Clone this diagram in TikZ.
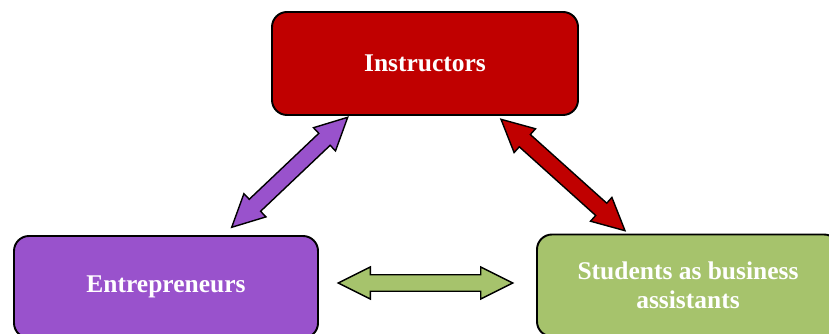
\documentclass[tikz,border=0pt]{standalone}
\usepackage{fontspec}
\setmainfont{Liberation Serif}
\usetikzlibrary{calc}
\definecolor{instred}{HTML}{C00000}
\definecolor{entpurple}{HTML}{9952CC}
\definecolor{stugreen}{HTML}{A6C36C}
\tikzset{
  role/.style={draw=black, line width=1.1pt, rounded corners=0.3cm, text=white,
    font=\fontsize{14.5}{16.5}\selectfont\bfseries, align=center,
    minimum width=6.08cm, minimum height=2.04cm},
  fat/.style={draw=black, line width=0.8pt, line join=miter}
}
% Doppelpfeil: #1 Stil, #2 Start, #3 Ende
\newcommand{\fatarrow}[3]{%
  \draw[fat, #1] (#2)
    -- ($(#2)!0.64cm!(#3)!0.32cm!90:(#3)$)
    -- ($(#2)!0.64cm!(#3)!0.165cm!90:(#3)$)
    -- ($(#3)!0.64cm!(#2)!0.165cm!-90:(#2)$)
    -- ($(#3)!0.64cm!(#2)!0.32cm!-90:(#2)$)
    -- (#3)
    -- ($(#3)!0.64cm!(#2)!0.32cm!90:(#2)$)
    -- ($(#3)!0.64cm!(#2)!0.165cm!90:(#2)$)
    -- ($(#2)!0.64cm!(#3)!0.165cm!-90:(#3)$)
    -- ($(#2)!0.64cm!(#3)!0.32cm!-90:(#3)$)
    -- cycle;}
\begin{document}
\begin{tikzpicture}
    \useasboundingbox (0,0) rectangle (16.58,-6.68);
    % Kaesten
    \node[role, fill=instred, minimum width=6.12cm, minimum height=2.06cm] (instr) at (8.5,-1.27) {Instructors};
    \node[role, fill=entpurple] (entre) at (3.32,-5.74) {Entrepreneurs};
    \node[role, fill=stugreen, minimum width=6.04cm] (stud) at (13.76,-5.71) {Students as business\\assistants};
    % Pfeilenden
    \coordinate (entre-up) at (4.634,-4.546);
    \coordinate (instr-left) at (6.954,-2.346);
    \coordinate (instr-right) at (10.02,-2.386);
    \coordinate (stud-up) at (12.5,-4.614);
    \coordinate (entre-right) at (6.766,-5.66);
    \coordinate (stud-left) at (10.254,-5.66);
    % Pfeile
    \fatarrow{fill=entpurple}{entre-up}{instr-left}
    \fatarrow{fill=instred}{instr-right}{stud-up}
    \fatarrow{fill=stugreen}{entre-right}{stud-left}
\end{tikzpicture}
\end{document}
